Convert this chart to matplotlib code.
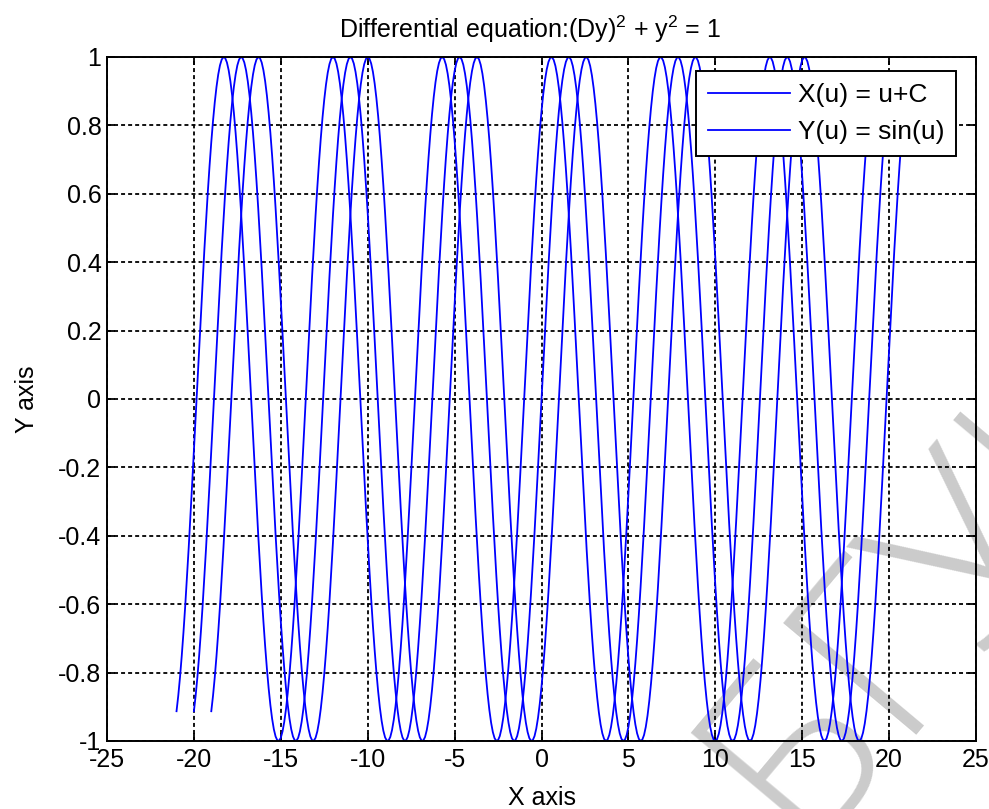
import numpy as np
import matplotlib
matplotlib.use("Agg")
import matplotlib.pyplot as plt

plt.rcParams['font.family'] = ['Liberation Sans', 'DejaVu Sans']
plt.rcParams['mathtext.fontset'] = 'custom'
plt.rcParams['mathtext.rm'] = 'Liberation Sans'
plt.rcParams['mathtext.it'] = 'Liberation Sans:italic'
plt.rcParams['axes.unicode_minus'] = False

# Data
C_values = [-1, 0, 1]          # shifts of the three curves
u_start, u_end = -20.0, 20.0    # parameter range
n_samples = 401
legend_labels = ["X(u) = u+C", "Y(u) = sin(u)"]
x_ticks = [-25, -20, -15, -10, -5, 0, 5, 10, 15, 20, 25]
x_tick_labels = ["-25", "-20", "-15", "-10", "-5", "0", "5", "10", "15", "20", "25"]
y_ticks = [-1, -0.8, -0.6, -0.4, -0.2, 0, 0.2, 0.4, 0.6, 0.8, 1]
y_tick_labels = ["-1", "-0.8", "-0.6", "-0.4", "-0.2", "0", "0.2", "0.4", "0.6", "0.8", "1"]
watermark = "БГУИР"

FS = 18
u = np.linspace(u_start, u_end, n_samples)

fig = plt.figure(figsize=(9.89, 8.09), dpi=100)
ax = fig.add_axes([107/989, 1 - 741/809, (976-107)/989, (741-57)/809])
ax.patch.set_alpha(0)

# watermark behind the plot
fig.text(800/989, 1 - 845/809, watermark, fontsize=175, color='#cbcbcb',
         rotation=50, rotation_mode='anchor', ha='left', va='baseline',
         family=['Open Sans', 'DejaVu Sans'], fontweight='light', zorder=-1)

lines = []
for C in C_values:
    ln, = ax.plot(u + C, np.sin(u), color=(0, 0, 1), lw=1.3)
    lines.append(ln)

ax.set_xlim(-25, 25)
ax.set_ylim(-1, 1)
ax.set_xticks(x_ticks)
ax.set_xticklabels(x_tick_labels)
ax.set_yticks(y_ticks)
ax.set_yticklabels(y_tick_labels)
ax.tick_params(direction='in', length=6, width=1.3, top=True, right=True,
               labelsize=FS, colors='black')
ax.tick_params(axis='x', pad=5)
ax.tick_params(axis='y', pad=4)
ax.grid(True, color='black', linestyle=(0, (2.2, 1.7)), linewidth=1.3)
for s in ax.spines.values():
    s.set_linewidth(1.4)
    s.set_color('black')

ax.set_title('Differential equation:(Dy)$^2$ + y$^2$ = 1', fontsize=FS, pad=14,
             x=0.487)
ax.set_xlabel('X axis', fontsize=FS, labelpad=10)
ax.set_ylabel('Y axis', fontsize=FS, labelpad=14)

leg = ax.legend(lines[:2], legend_labels, loc='upper right', fontsize=19,
                frameon=True, fancybox=False, framealpha=1, edgecolor='black',
                handlelength=3.1, handletextpad=0.3, borderpad=0.45,
                labelspacing=0.5, borderaxespad=0,
                bbox_to_anchor=(0.977, 0.9795))
leg.get_frame().set_linewidth(1.4)

fig.savefig('out.png', dpi=100)
